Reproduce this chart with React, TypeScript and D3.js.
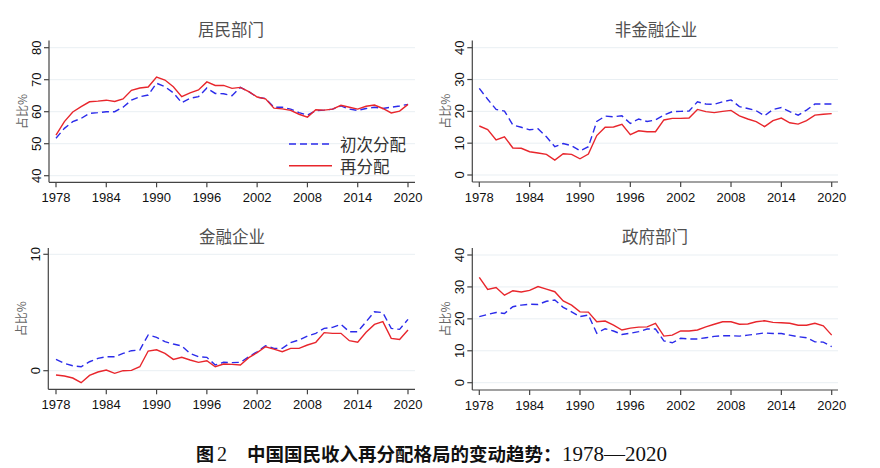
import React from "react";
import * as d3 from "d3";

const years: number[] = d3.range(1978, 2021);
const xTicks: number[] = [1978, 1984, 1990, 1996, 2002, 2008, 2014, 2020];

const householdPrimary = [51.7,54.8,56.9,57.9,59.5,59.7,60.0,60.0,61.4,63.6,64.7,65.2,68.9,67.8,65.9,62.8,64.2,64.7,67.4,65.7,65.6,65.0,67.6,66.3,64.5,64.1,61.4,61.4,60.8,59.7,58.9,60.3,60.5,60.8,61.8,60.8,60.4,61.0,61.4,61.0,61.4,61.8,62.3];
const householdRedist = [52.7,56.9,59.9,61.6,63.1,63.3,63.6,63.2,64.0,66.7,67.4,67.7,70.8,69.9,67.8,64.7,65.9,66.8,69.3,68.2,68.2,67.3,67.6,66.3,64.6,64.0,61.1,60.9,60.4,59.2,58.3,60.6,60.5,60.8,62.0,61.4,60.8,61.7,62.1,61.0,59.6,60.2,62.3];

const nonfinPrimary = [27.2,23.8,20.6,20.1,15.7,15.0,14.2,14.5,12.0,8.9,9.9,9.2,7.6,8.9,16.8,18.5,18.3,18.6,16.2,17.6,16.8,17.3,18.8,19.9,20.0,20.1,23.0,22.3,22.2,23.0,23.6,21.5,20.9,20.2,18.6,20.6,21.2,19.9,18.8,20.4,22.3,22.3,22.3];
const nonfinRedist = [15.4,14.3,11.0,12.0,8.5,8.4,7.3,6.9,6.5,4.7,6.7,6.5,5.1,6.6,12.4,15.0,15.1,15.9,12.7,13.9,13.6,13.6,17.3,17.8,17.8,17.9,20.6,19.9,19.6,20.0,20.3,18.6,17.6,16.8,15.2,17.1,17.9,16.4,16.0,17.1,18.8,19.1,19.3];

const finPrimary = [0.97,0.63,0.43,0.34,0.77,1.06,1.2,1.2,1.49,1.72,1.78,3.07,2.87,2.49,2.29,2.12,1.49,1.2,1.15,0.49,0.72,0.69,0.72,1.2,1.63,2.15,1.92,1.92,2.41,2.64,2.98,3.21,3.64,3.72,3.98,3.35,3.35,4.21,5.07,4.99,3.64,3.55,4.41];
const finRedist = [-0.37,-0.46,-0.63,-1.03,-0.4,-0.11,0.06,-0.23,0.0,0.03,0.34,1.69,1.8,1.49,0.97,1.15,0.92,0.72,0.86,0.34,0.57,0.54,0.49,1.12,1.55,2.06,1.86,1.63,1.92,1.92,2.21,2.44,3.27,3.21,3.21,2.58,2.44,3.3,3.98,4.21,2.78,2.69,3.5];

const govPrimary = [20.7,21.4,22.0,21.7,23.8,24.3,24.6,24.5,25.5,25.9,23.6,22.2,20.7,21.2,15.5,16.9,16.2,15.1,15.5,16.0,16.8,16.8,13.1,12.5,13.9,13.7,13.7,14.1,14.5,14.7,14.7,14.6,14.9,15.2,15.6,15.4,15.4,14.9,14.4,14.1,12.8,12.7,11.3];
const govRedist = [33.0,29.2,29.8,27.4,28.8,28.4,28.9,30.1,29.3,28.5,25.6,24.3,22.2,22.1,19.1,19.3,18.0,16.5,17.1,17.4,17.5,18.6,14.6,14.9,16.2,16.2,16.5,17.5,18.3,19.1,19.1,18.3,18.4,19.1,19.4,18.9,18.8,18.6,18.0,18.0,18.6,17.8,14.9];

const panelTitles = ["居民部门", "非金融企业", "金融企业", "政府部门"];
const legendLabels = ["初次分配", "再分配"];

const BLUE = "#2b2bea";
const RED = "#e8262c";
const GRID = "#e9eff3";
const AXIS = "#444";

type Panel = {
  title: string;
  primary: number[];
  redist: number[];
  axisX: number;
  x0: number;
  x1: number;
  right: number;
  top: number;
  bottom: number;
  yDomain: [number, number];
  yRange: [number, number];
  yTicks: number[];
  titleX: number;
  titleY: number;
  legend?: boolean;
};

const panels: Panel[] = [
  { title: panelTitles[0], primary: householdPrimary, redist: householdRedist, axisX: 49, x0: 56, x1: 408, right: 415, top: 40.5, bottom: 182.3, yDomain: [40, 80], yRange: [175.7, 47.7], yTicks: [40, 50, 60, 70, 80], titleX: 231, titleY: 29, legend: true },
  { title: panelTitles[1], primary: nonfinPrimary, redist: nonfinRedist, axisX: 472.3, x0: 479.3, x1: 831.7, right: 838, top: 40.5, bottom: 182, yDomain: [0, 40], yRange: [175, 47.7], yTicks: [0, 10, 20, 30, 40], titleX: 656, titleY: 29 },
  { title: panelTitles[2], primary: finPrimary, redist: finRedist, axisX: 48.3, x0: 56, x1: 408, right: 415, top: 248, bottom: 389.3, yDomain: [0, 10], yRange: [370.7, 254.3], yTicks: [0, 10], titleX: 232, titleY: 236 },
  { title: panelTitles[3], primary: govPrimary, redist: govRedist, axisX: 472.3, x0: 479.3, x1: 831.7, right: 838, top: 248, bottom: 390, yDomain: [0, 40], yRange: [382.7, 255], yTicks: [0, 10, 20, 30, 40], titleX: 655, titleY: 236 },
];

const tickFont = "'Liberation Sans', Arial, sans-serif";
const cjkFont = "'Noto Sans CJK SC', sans-serif";
const serifFont = "'Liberation Serif', 'Times New Roman', serif";

function PanelView({ p }: { p: Panel }) {
  const x = d3.scaleLinear().domain([1978, 2020]).range([p.x0, p.x1]);
  const y = d3.scaleLinear().domain(p.yDomain).range(p.yRange);
  const line = (vals: number[]) =>
    d3.line<number>().x((_, i) => x(years[i])).y((v) => y(v))(vals) || "";
  const midY = (p.top + p.bottom) / 2;
  return (
    <g>
      <text x={p.titleX} y={p.titleY} textAnchor="middle" dominantBaseline="central" fontFamily={cjkFont} fontSize={16.5} fill="#505050">{p.title}</text>
      {p.yTicks.map((t) => (
        <line key={"g" + t} x1={p.axisX} x2={p.right} y1={y(t)} y2={y(t)} stroke={GRID} strokeWidth={1} />
      ))}
      <line x1={p.axisX} x2={p.axisX} y1={p.top} y2={p.bottom} stroke={AXIS} strokeWidth={1.2} />
      <line x1={p.axisX} x2={p.right} y1={p.bottom} y2={p.bottom} stroke={AXIS} strokeWidth={1.2} />
      {p.yTicks.map((t) => (
        <g key={"y" + t}>
          <line x1={p.axisX - 5} x2={p.axisX} y1={y(t)} y2={y(t)} stroke={AXIS} strokeWidth={1.2} />
          <text transform={`translate(${p.axisX - 8},${y(t)}) rotate(-90)`} textAnchor="middle" fontFamily={tickFont} fontSize={13} fill="#111">{t}</text>
        </g>
      ))}
      <text transform={`translate(${p.axisX - 22},${midY}) rotate(-90)`} textAnchor="middle" fontFamily={cjkFont} fontSize={12} fill="#666">占比%</text>
      {xTicks.map((t) => (
        <g key={"x" + t}>
          <line x1={x(t)} x2={x(t)} y1={p.bottom} y2={p.bottom + 5} stroke={AXIS} strokeWidth={1.2} />
          <text x={x(t)} y={p.bottom + 19.5} textAnchor="middle" fontFamily={tickFont} fontSize={13} fill="#111">{t}</text>
        </g>
      ))}
      <path d={line(p.primary)} fill="none" stroke={BLUE} strokeWidth={1.4} strokeDasharray="7,4" />
      <path d={line(p.redist)} fill="none" stroke={RED} strokeWidth={1.4} />
      {p.legend && (
        <g>
          <line x1={289} x2={332} y1={144} y2={144} stroke={BLUE} strokeWidth={1.4} strokeDasharray="7,4" />
          <text x={340} y={144} dominantBaseline="central" fontFamily={cjkFont} fontSize={16.5} fill="#333">{legendLabels[0]}</text>
          <line x1={289} x2={332} y1={165.7} y2={165.7} stroke={RED} strokeWidth={1.4} />
          <text x={340} y={165.7} dominantBaseline="central" fontFamily={cjkFont} fontSize={16.5} fill="#333">{legendLabels[1]}</text>
        </g>
      )}
    </g>
  );
}

export default function App() {
  return (
    <svg width={880} height={468} viewBox="0 0 880 468" style={{ position: "absolute", left: 0, top: 0, background: "#fff" }}>
      <rect width={880} height={468} fill="#fff" />
      {panels.map((p, i) => (
        <PanelView key={i} p={p} />
      ))}
      <text x={196} y={461} fontFamily={cjkFont} fontWeight={700} fontSize={18} fill="#111">图</text>
      <text x={217} y={461} fontFamily={serifFont} fontSize={20} fill="#111">2</text>
      <text x={247} y={461} fontFamily={cjkFont} fontWeight={700} fontSize={18.5} fill="#111">中国国民收入再分配格局的变动趋势：</text>
      <text x={562} y={461} fontFamily={serifFont} fontSize={21} fill="#111">1978—2020</text>
    </svg>
  );
}
